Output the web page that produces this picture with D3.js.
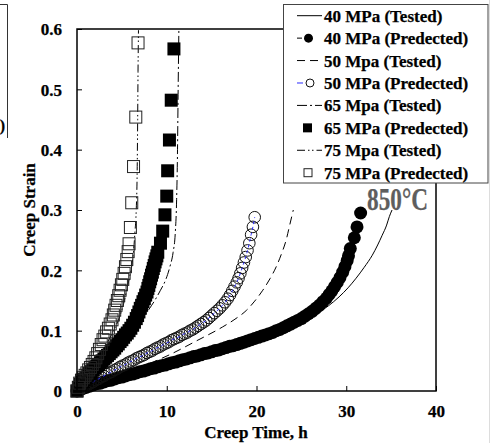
<!DOCTYPE html>
<html>
<head>
<meta charset="utf-8">
<script src="https://cdn.jsdelivr.net/npm/d3@7"></script>
<style>
  html, body { margin: 0; padding: 0; background: #fff; }
  svg { display: block; }
  svg text { font-family: "Liberation Serif", "Times New Roman", serif; font-weight: 700; fill: #000; stroke: #000; stroke-width: 0.25px; }
</style>
</head>
<body>
<svg id="chart" width="490" height="443"></svg>
<script>
// ---- data: [creep time (h), creep strain] ----
const xTicks = [0, 10, 20, 30, 40];
const yTicks = [0, 0.1, 0.2, 0.3, 0.4, 0.5, 0.6];

const legendLabels = [
  "40 MPa (Tested)", "40 MPa (Predected)",
  "50 Mpa (Tested)", "50 MPa (Predected)",
  "65 Mpa (Tested)", "65 MPa (Predected)",
  "75 Mpa (Tested)", "75 MPa (Predected)"
];

const tested40 = [[0,0],[1,0.005],[3,0.014],[6,0.027],[10,0.044],[15,0.064],[20,0.086],[23,0.101],
  [25.5,0.118],[27,0.131],[28,0.141],[29.2,0.156],[30.2,0.171],[31.1,0.187],[32,0.205],[32.9,0.225],
  [33.5,0.242],[34,0.258],[34.5,0.275],[34.8,0.289],[35.1,0.300]];

const predicted40 = [[0,0],[0.3,0.002],[0.6,0.004],[1,0.006],[1.4,0.008],[1.8,0.010],[2.2,0.012],[2.6,0.013],
  [3,0.015],[3.4,0.017],[3.8,0.018],[4.2,0.020],[4.6,0.022],[5,0.023],[5.4,0.025],[5.8,0.027],[6.2,0.028],
  [6.6,0.030],[7,0.032],[7.4,0.033],[7.8,0.035],[8.2,0.037],[8.6,0.038],[9,0.040],[9.4,0.042],[9.8,0.043],
  [10.2,0.045],[10.6,0.047],[11,0.048],[11.4,0.050],[11.8,0.052],[12.2,0.053],[12.6,0.055],[13,0.057],
  [13.4,0.058],[13.8,0.060],[14.2,0.062],[14.6,0.063],[15,0.065],[15.4,0.067],[15.8,0.068],[16.2,0.070],
  [16.6,0.072],[17,0.074],[17.4,0.075],[17.8,0.077],[18.2,0.079],[18.6,0.081],[19,0.083],[19.4,0.085],
  [19.8,0.087],[20.2,0.089],[20.6,0.091],[21,0.093],[21.4,0.095],[21.8,0.097],[22.2,0.100],[22.6,0.102],
  [23,0.105],[23.4,0.108],[23.8,0.111],[24.2,0.114],[24.6,0.117],[25,0.120],[25.4,0.124],[25.8,0.128],
  [26.2,0.132],[26.6,0.137],[27,0.142],[27.4,0.148],[27.8,0.154],[28.1,0.160],[28.4,0.166],[28.7,0.173],
  [29,0.180],[29.3,0.188],[29.6,0.197],[29.85,0.206],[30.1,0.216],[30.25,0.224],
  [30.45,0.236],[30.9,0.254],[31.2,0.272],[31.6,0.295]];

const tested50 = [[0,0],[2,0.011],[4,0.022],[6,0.033],[8,0.045],[10.3,0.060],[13.3,0.083],[16.2,0.106],
  [17.6,0.119],[18.9,0.134],[19.8,0.149],[20.7,0.167],[21.5,0.186],[22.2,0.206],[22.8,0.228],
  [23.3,0.250],[23.7,0.275],[24.1,0.300]];

const predicted50 = [[0,0],[0.3,0.003],[0.6,0.005],[0.9,0.008],[1.2,0.010],[1.5,0.013],[1.8,0.015],
  [2.1,0.018],[2.4,0.020],[2.7,0.023],[3,0.025],[3.3,0.028],[3.6,0.030],[3.9,0.032],[4.2,0.035],
  [4.5,0.037],[4.8,0.040],[5.1,0.042],[5.4,0.044],[5.7,0.047],[6,0.049],[6.3,0.051],[6.6,0.054],
  [6.9,0.056],[7.2,0.058],[7.5,0.060],[7.8,0.063],[8.1,0.065],[8.4,0.067],[8.7,0.070],[9,0.072],
  [9.3,0.074],[9.6,0.077],[9.9,0.079],[10.2,0.081],[10.5,0.084],[10.8,0.086],[11.1,0.088],[11.4,0.090],
  [11.7,0.093],[12,0.095],[12.3,0.097],[12.6,0.100],[12.9,0.102],[13.2,0.105],[13.5,0.108],[13.8,0.111],
  [14.1,0.114],[14.4,0.117],[14.7,0.121],[15,0.125],[15.3,0.129],[15.6,0.133],[15.9,0.137],[16.2,0.142],
  [16.5,0.147],[16.8,0.153],[17.05,0.159],[17.3,0.166],[17.55,0.173],[17.8,0.180],[18,0.187],[18.2,0.195],
  [18.4,0.204],[18.6,0.213],[18.8,0.222],[19,0.233],[19.2,0.245],[19.4,0.259],[19.6,0.272],[19.8,0.288]];

const tested65 = [[0,0],[1,0.018],[2,0.034],[3,0.049],[4,0.064],[5,0.080],[6,0.097],[7,0.115],[8,0.135],
  [8.7,0.151],[9.3,0.167],[9.9,0.185],[10.35,0.206],[10.7,0.229],[10.95,0.262],[11.1,0.317],[11.2,0.400],
  [11.27,0.500],[11.35,0.598]];

const predicted65 = [[0,0],[0.2,0.006],[0.4,0.011],[0.6,0.015],[0.8,0.019],[1,0.022],[1.2,0.026],[1.4,0.029],
  [1.6,0.032],[1.8,0.035],[2,0.038],[2.2,0.041],[2.4,0.044],[2.6,0.047],[2.8,0.050],[3,0.053],[3.2,0.056],
  [3.4,0.059],[3.6,0.062],[3.8,0.065],[4,0.068],[4.2,0.071],[4.4,0.075],[4.6,0.078],[4.8,0.082],[5,0.085],
  [5.2,0.089],[5.4,0.093],[5.6,0.096],[5.8,0.100],[6,0.104],[6.2,0.109],[6.4,0.114],[6.6,0.120],
  [6.75,0.125],[6.9,0.131],[7.05,0.137],[7.2,0.142],[7.35,0.148],[7.5,0.153],[7.65,0.159],[7.8,0.164],
  [7.9,0.170],[8,0.175],[8.1,0.181],[8.2,0.186],[8.3,0.192],[8.4,0.197],[8.5,0.203],[8.6,0.208],
  [8.7,0.214],[8.8,0.219],[8.9,0.224],[9,0.230],
  [9.3,0.245],[9.55,0.265],[9.8,0.292],[10,0.323],[10.1,0.365],[10.3,0.416],[10.5,0.482],[10.8,0.567]];

const tested75 = [[0,0],[1,0.022],[2,0.045],[3,0.070],[4,0.098],[4.8,0.125],[5.2,0.145],[5.5,0.165],
  [5.8,0.185],[6.1,0.207],[6.3,0.232],[6.45,0.262],[6.6,0.300],[6.7,0.360],[6.76,0.450],[6.8,0.530],
  [6.85,0.598]];

const predicted75 = [[0,0],[0.15,0.006],[0.3,0.013],[0.5,0.018],[0.7,0.022],[0.9,0.026],[1.1,0.030],
  [1.3,0.035],[1.5,0.039],[1.7,0.044],[1.9,0.049],[2.1,0.055],[2.3,0.062],[2.5,0.069],[2.7,0.077],
  [2.9,0.085],[3.1,0.091],[3.3,0.098],[3.5,0.104],[3.7,0.111],[3.9,0.118],[4.05,0.126],[4.2,0.134],
  [4.35,0.142],[4.5,0.150],[4.65,0.158],[4.8,0.167],[4.95,0.176],[5.1,0.185],[5.25,0.195],[5.4,0.206],
  [5.55,0.218],[5.7,0.231],[5.8,0.244],[5.95,0.271],[6.1,0.312],[6.3,0.372],[6.55,0.454],[6.8,0.577]];

// ---- series styling ----
const series = [
  { label: legendLabels[0], data: tested40,    line: { dash: null } },
  { label: legendLabels[1], data: predicted40, marker: "circleFilled" },
  { label: legendLabels[2], data: tested50,    line: { dash: "8,5" } },
  { label: legendLabels[3], data: predicted50, marker: "circleOpen", line: { dash: "3,3", color: "#2b2bff" }, lineOnTop: true },
  { label: legendLabels[4], data: tested65,    line: { dash: "10,3,2,3" } },
  { label: legendLabels[5], data: predicted65, marker: "squareFilled" },
  { label: legendLabels[6], data: tested75,    line: { dash: "8,3,1.5,2.5,1.5,3" } },
  { label: legendLabels[7], data: predicted75, marker: "squareOpen" }
];

const svg = d3.select("#chart");
const plot = { left: 77, right: 436, top: 29, bottom: 391 };

const x = d3.scaleLinear().domain([0, 40]).range([plot.left, plot.right]);
const y = d3.scaleLinear().domain([0, 0.6]).range([plot.bottom, plot.top]);

svg.append("rect").attr("width", 490).attr("height", 443).attr("fill", "#fff");

// cropped neighbouring panel at the left edge
svg.append("path").attr("d", "M0,4.5H7.5V138").attr("fill", "none").attr("stroke", "#333").attr("stroke-width", 1);
svg.append("text").attr("x", 5).attr("y", 131).attr("text-anchor", "end")
  .attr("font-size", 16).text("0)");
// thin border at right edge
svg.append("line").attr("x1", 489.5).attr("x2", 489.5).attr("y1", 0).attr("y2", 443)
  .attr("stroke", "#ddd").attr("stroke-width", 1);

// axes with inward ticks
const xAxis = d3.axisBottom(x).tickValues(xTicks).tickSizeInner(-5).tickSizeOuter(0).tickFormat(d3.format("d"));
const gx = svg.append("g").attr("transform", `translate(0,${plot.bottom})`).call(xAxis);
gx.select(".domain").remove();
gx.selectAll("line").attr("stroke", "#000");
gx.selectAll("text").attr("y", 26).attr("dy", null).attr("font-size", 17);

const yAxis = d3.axisLeft(y).tickValues(yTicks).tickSizeInner(-5).tickSizeOuter(0)
  .tickPadding(15).tickFormat(d => d === 0 ? "0" : d.toFixed(1));
const gy = svg.append("g").attr("transform", `translate(${plot.left},0)`).call(yAxis);
gy.select(".domain").remove();
gy.selectAll("line").attr("stroke", "#000");
gy.selectAll("text").attr("dy", "0.34em").attr("font-size", 17);
gx.attr("font-family", null).attr("font-size", null);
gy.attr("font-family", null).attr("font-size", null);

// data
const lineGen = d3.line().x(d => x(d[0])).y(d => y(d[1])).curve(d3.curveMonotoneX);
const g = svg.append("g");

function drawMarkers(sel, kind, pts) {
  if (kind === "circleFilled") {
    sel.selectAll("circle").data(pts).join("circle")
      .attr("cx", d => x(d[0])).attr("cy", d => y(d[1])).attr("r", 6.5).attr("fill", "#000");
  } else if (kind === "circleOpen") {
    sel.selectAll("circle").data(pts).join("circle")
      .attr("cx", d => x(d[0])).attr("cy", d => y(d[1])).attr("r", 5.8)
      .attr("fill", "none").attr("stroke", "#111").attr("stroke-width", 1);
  } else if (kind === "squareFilled") {
    sel.selectAll("rect").data(pts).join("rect")
      .attr("x", d => x(d[0]) - 6.5).attr("y", d => y(d[1]) - 6.5).attr("width", 13).attr("height", 13).attr("fill", "#000");
  } else if (kind === "squareOpen") {
    sel.selectAll("rect").data(pts).join("rect")
      .attr("x", d => x(d[0]) - 6).attr("y", d => y(d[1]) - 6).attr("width", 12).attr("height", 12)
      .attr("fill", "none").attr("stroke", "#222").attr("stroke-width", 1);
  }
}

series.forEach(s => {
  const sg = g.append("g");
  const drawLine = () => {
    if (!s.line) return;
    sg.append("path").datum(s.data).attr("d", lineGen).attr("fill", "none")
      .attr("stroke", s.line.color || "#000").attr("stroke-width", 1)
      .attr("stroke-dasharray", s.line.dash);
  };
  if (!s.lineOnTop) drawLine();
  if (s.marker) drawMarkers(sg.append("g"), s.marker, s.data);
  if (s.lineOnTop) drawLine();
});

// plot frame
svg.append("rect").attr("x", plot.left).attr("y", plot.top)
  .attr("width", plot.right - plot.left).attr("height", plot.bottom - plot.top)
  .attr("fill", "none").attr("stroke", "#000").attr("stroke-width", 1.5);

// axis titles
svg.append("text").attr("x", 256).attr("y", 438).attr("text-anchor", "middle")
  .attr("font-size", 17).text("Creep Time, h");
svg.append("text").attr("transform", "translate(35,210) rotate(-90)").attr("text-anchor", "middle")
  .attr("font-size", 17).text("Creep Strain");

// temperature annotation
svg.append("text").attr("x", 367).attr("y", 210).attr("font-size", 31)
  .style("fill", "#5e5e5e").style("stroke", "#5e5e5e")
  .attr("textLength", 61).attr("lengthAdjust", "spacingAndGlyphs").text("850°C");

// legend
const leg = svg.append("g");
leg.append("rect").attr("x", 283.5).attr("y", 4.5).attr("width", 204.5).attr("height", 178.5)
  .attr("fill", "#fff").attr("stroke", "#444").attr("stroke-width", 1);
series.forEach((s, i) => {
  const cy = 15.7 + i * 22.43;
  const row = leg.append("g");
  if (s.line) {
    row.append("line").attr("x1", 297).attr("x2", s.marker ? 303 : 322).attr("y1", cy).attr("y2", cy)
      .attr("stroke", s.line.color || "#000").attr("stroke-width", 1)
      .attr("stroke-dasharray", s.marker ? null : s.line.dash);
  }
  if (s.marker === "circleFilled") {
    row.append("line").attr("x1", 297).attr("x2", 302).attr("y1", cy).attr("y2", cy).attr("stroke", "#000");
    row.append("circle").attr("cx", 308.5).attr("cy", cy).attr("r", 4.5).attr("fill", "#000");
  } else if (s.marker === "circleOpen") {
    row.append("circle").attr("cx", 310).attr("cy", cy).attr("r", 4).attr("fill", "none").attr("stroke", "#111");
  } else if (s.marker === "squareFilled") {
    row.append("rect").attr("x", 303).attr("y", cy - 4.5).attr("width", 9).attr("height", 9).attr("fill", "#000");
  } else if (s.marker === "squareOpen") {
    row.append("rect").attr("x", 304).attr("y", cy - 4).attr("width", 8).attr("height", 8)
      .attr("fill", "none").attr("stroke", "#222");
  }
  row.append("text").attr("x", 324).attr("y", cy + 6).attr("font-size", 17).text(s.label);
});
</script>
</body>
</html>
